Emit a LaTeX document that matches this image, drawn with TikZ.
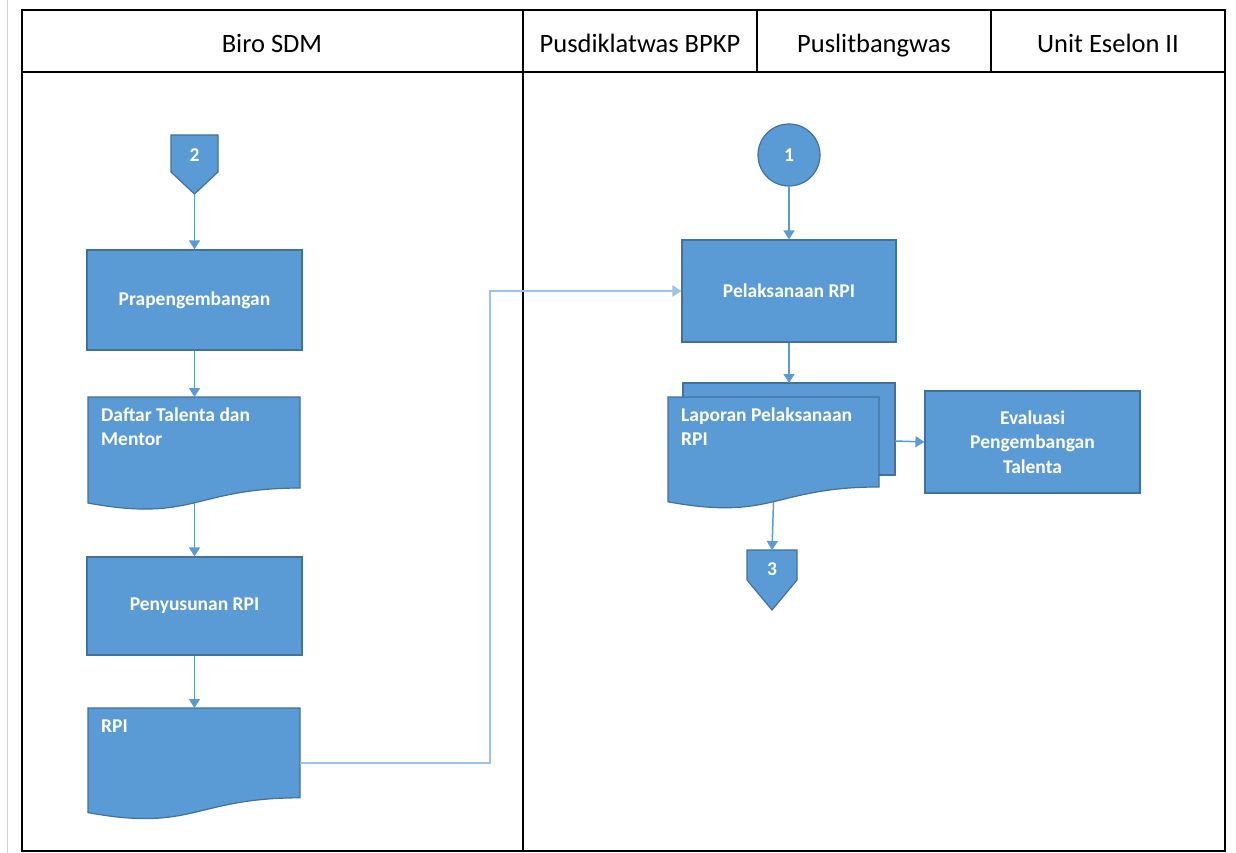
\documentclass[tikz,border=0pt]{standalone}
\usepackage{fontspec}
\setmainfont{Carlito}
\usetikzlibrary{arrows.meta,calc}
\definecolor{fillb}{HTML}{5B9BD5}
\definecolor{edgeb}{HTML}{41719C}
\definecolor{lineb}{HTML}{5B9BD5}
\definecolor{lightb}{HTML}{9DC3E6}
\newcommand\docshape[4]{% x1 y1 x2 h
  \filldraw[shapestyle] (#1,#2) -- (#3,#2) -- (#3,{#2+0.802*#4})
    .. controls ({(#1+#3)/2},{#2+0.802*#4}) and ({(#1+#3)/2},{#2+1.1075*#4}) .. (#1,{#2+0.934*#4}) -- cycle;}
\begin{document}
\begin{tikzpicture}[x=1pt,y=-1pt,
  shapestyle/.style={draw=edgeb, line width=1.2pt, fill=fillb},
  box/.style={shapestyle, text=white, minimum width=215pt, minimum height=100pt, inner sep=0pt,
    font=\bfseries\fontsize{19.5}{24.5}\selectfont, align=center},
  doctext/.style={text=white, anchor=north west, inner sep=0pt, align=left, font=\bfseries\fontsize{19.5}{24.5}\selectfont},
  lbl/.style={text=white, font=\bfseries\fontsize{19.5}{24.5}\selectfont},
  head/.style={font=\fontsize{26.5}{30}\selectfont, anchor=base},
  flow/.style={draw=lineb, line width=1.5pt, -{Triangle[length=9pt,width=11pt]}},
  flowlight/.style={draw=lightb, line width=2pt, -{Triangle[length=9pt,width=11pt]}},
  frame/.style={line width=2.5pt}
]
\useasboundingbox (0,0) rectangle (1236,853);
\fill[white] (0,0) rectangle (1236,853);
\draw[gray!35, line width=1pt] (7.5,0) -- (7.5,853);
% frame
\draw[frame] (22,10) rectangle (1225,851);
\draw[frame] (22,72) -- (1225,72);
\draw[frame] (523,10) -- (523,851);
\draw[frame] (757,10) -- (757,72);
\draw[frame] (991,10) -- (991,72);
\node[head] (h1) at (272,53) {Biro SDM};
\node[head] (h2) at (640,53) {Pusdiklatwas BPKP};
\node[head] (h3) at (874,53) {Puslitbangwas};
\node[head] (h4) at (1108,53) {Unit Eselon II};

% connector 2
\filldraw[shapestyle] (171,135) -- (218,135) -- (218,172) -- (194.5,194) -- (171,172) -- cycle;
\node[lbl] (c2) at (194.5,155) {2};
\coordinate (c2b) at (194.5,194);

\node[box] (prap) at (194.5,300) {Prapengembangan};

% Daftar document
\docshape{88}{397}{300}{113.5}
\coordinate (daftarT) at (194.5,397);
\coordinate (daftarB) at (194.5,503);
\node[doctext] (daftar) at (101,407.5) {Daftar Talenta dan\\Mentor};

\node[box, minimum height=98pt] (peny) at (194.5,606) {Penyusunan RPI};

% RPI document
\docshape{88}{708}{300}{112}
\coordinate (rpiT) at (194.5,708);
\coordinate (rpiR) at (300,763);
\node[doctext] (rpi) at (101,720) {RPI};

% right lane
\node[circle, shapestyle, minimum size=62pt, inner sep=0pt, text=white, font=\bfseries\fontsize{19.5}{24.5}\selectfont] (c1) at (789,155) {1};
\node[box, minimum width=214pt, minimum height=102pt] (pel) at (789,291) {Pelaksanaan RPI};

% multi document
\filldraw[shapestyle] (683,383) rectangle (895,475);
\docshape{668}{397}{879}{112.2}
\coordinate (lapT) at (789,383);
\coordinate (lapR) at (895,441);
\coordinate (lapB) at (773.5,502);
\node[doctext] (lap) at (681,407.5) {Laporan Pelaksanaan\\RPI};

\node[box, minimum width=215pt, minimum height=102pt] (eval) at (1032.5,442) {Evaluasi\\Pengembangan\\Talenta};

% connector 3
\filldraw[shapestyle] (747,550) -- (797,550) -- (797,580) -- (772,610) -- (747,580) -- cycle;
\node[lbl] (c3) at (772,569) {3};
\coordinate (c3t) at (772,550);

% arrows
\draw[flow] (c2b) -- (prap.north);
\draw[flow] (prap.south) -- (daftarT);
\draw[flow] (daftarB) -- (peny.north);
\draw[flow] (peny.south) -- (rpiT);
\draw[flowlight] (rpiR) -- (490,763) |- (pel.west);
\draw[flow] (c1.south) -- (pel.north);
\draw[flow] (pel.south) -- (lapT);
\draw[flow] (lapR) -- (eval.west);
\draw[flow] (lapB) -- (c3t);
\end{tikzpicture}
\end{document}
